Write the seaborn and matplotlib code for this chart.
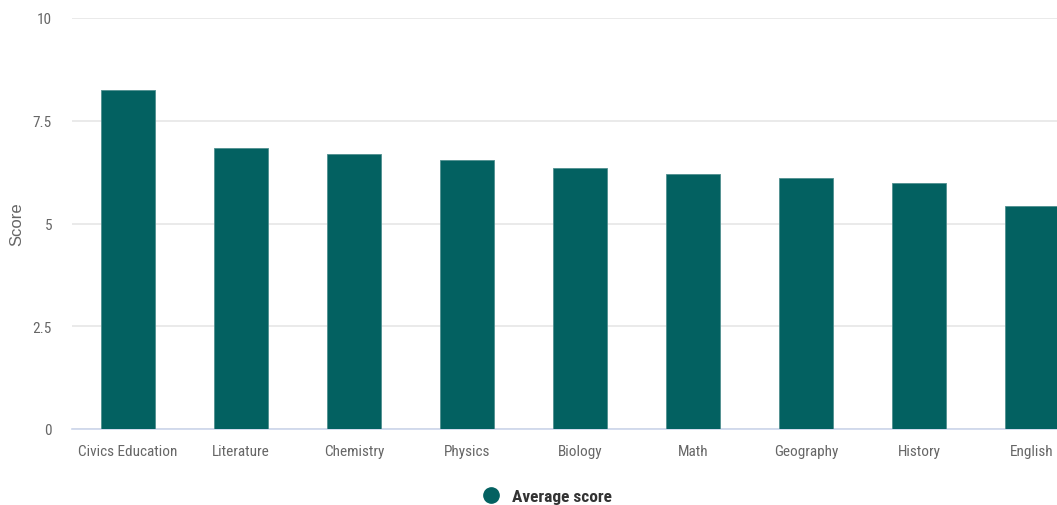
import matplotlib
matplotlib.use("Agg")
import matplotlib.pyplot as plt
import seaborn as sns
import pandas as pd
from matplotlib.lines import Line2D

subjects = ["Civics Education", "Literature", "Chemistry", "Physics", "Biology",
            "Math", "Geography", "History", "English"]
avg_score = [8.24, 6.84, 6.68, 6.54, 6.36, 6.21, 6.10, 5.99, 5.43]
y_ticks = [0, 2.5, 5, 7.5, 10]
y_tick_labels = ["0", "2.5", "5", "7.5", "10"]
series_name = "Average score"

sns.set_theme(style="white")
plt.rcParams["font.family"] = ["Roboto Condensed", "DejaVu Sans"]

bar_color = "#036161"
df = pd.DataFrame({"subject": subjects, "score": avg_score})

fig = plt.figure(figsize=(10.57, 5.06), dpi=100)
ax = fig.add_axes([71.5 / 1057, 76 / 506, 1017 / 1057, 411 / 506])
sns.barplot(data=df, x="subject", y="score", color=bar_color, width=0.48,
            saturation=1, ax=ax, edgecolor="#4f8f8f", linewidth=0.6, zorder=3)

ax.set_ylim(0, 10)
ax.set_xlim(-0.5, len(subjects) - 0.5)
ax.set_yticks(y_ticks)
ax.set_yticklabels(y_tick_labels)
ax.yaxis.grid(True, color="#e6e6e6", linewidth=1.2, zorder=0)
ax.set_axisbelow(True)
for s in ["top", "right", "left"]:
    ax.spines[s].set_visible(False)
ax.spines["bottom"].set_color("#ccd6eb")
ax.spines["bottom"].set_linewidth(1.2)
ax.tick_params(axis="both", length=0, colors="#666666", labelsize=11)
ax.tick_params(axis="x", pad=11)
ax.tick_params(axis="y", pad=14)
ax.set_xlabel("")
ax.set_ylabel("Score", color="#666666", fontsize=12, family=["Liberation Sans", "DejaVu Sans"])
ax.yaxis.set_label_coords(-0.046, 0.5)

handle = Line2D([0], [0], marker="o", linestyle="", markersize=11,
                markerfacecolor=bar_color, markeredgecolor=bar_color)
fig.legend([handle], [series_name], loc="center", bbox_to_anchor=(543 / 1057, 9 / 506),
           frameon=False, handletextpad=0.2, prop={"weight": "bold", "size": 12.5},
           labelcolor="#333333")

fig.savefig("out.png", dpi=100)
